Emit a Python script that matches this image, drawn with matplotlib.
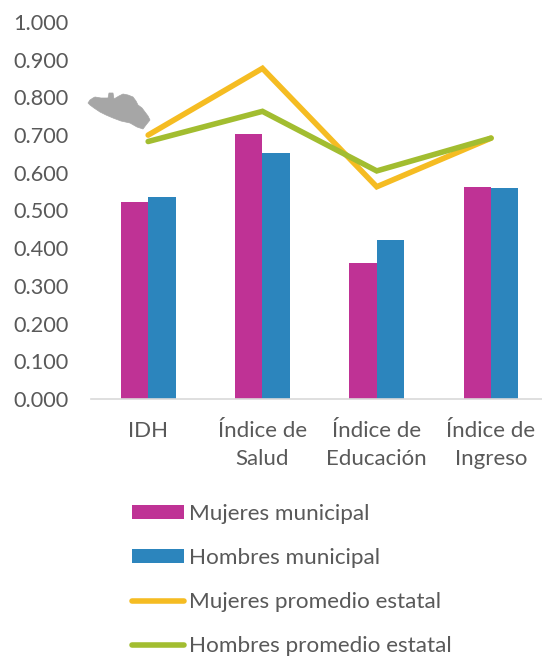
import matplotlib
matplotlib.use("Agg")
import matplotlib.pyplot as plt
import numpy as np
from matplotlib.patches import Polygon, Patch
from matplotlib.lines import Line2D

W, H = 542, 658
plt.rcParams['font.family'] = ['Lato', 'DejaVu Sans']

categories = ["IDH", "Índice de\nSalud", "Índice de\nEducación", "Índice de\nIngreso"]
mujeres_municipal = [0.522, 0.702, 0.362, 0.563]
hombres_municipal = [0.537, 0.652, 0.422, 0.560]
mujeres_estatal = [0.700, 0.877, 0.563, 0.692]
hombres_estatal = [0.683, 0.763, 0.605, 0.692]
y_ticks = [0.0, 0.1, 0.2, 0.3, 0.4, 0.5, 0.6, 0.7, 0.8, 0.9, 1.0]
series_names = ["Mujeres municipal", "Hombres municipal", "Mujeres promedio estatal", "Hombres promedio estatal"]

PINK, BLUE, YELLOW, GREEN = "#BF3295", "#2C85BD", "#F5BC22", "#A2BD30"
TXT = "#595959"
LW = 4.0

fig = plt.figure(figsize=(W/100, H/100), dpi=100)
left, right, top, bottom = 91, 542, 22, 399
ax = fig.add_axes([left/W, 1-bottom/H, (right-left)/W, (bottom-top)/H])

x = np.arange(len(categories))
bw = 0.24
ax.bar(x-bw/2, mujeres_municipal, bw, color=PINK)
ax.bar(x+bw/2, hombres_municipal, bw, color=BLUE)
ax.plot(x, mujeres_estatal, color=YELLOW, lw=LW, solid_capstyle='round', solid_joinstyle='miter')
ax.plot(x, hombres_estatal, color=GREEN, lw=LW, solid_capstyle='round', solid_joinstyle='miter')

span = (right-left)/114.3
ax.set_xlim(-0.5, span-0.5)
ax.set_ylim(0, 1)
ax.set_yticks(y_ticks)
ax.set_yticklabels([f"{v:.3f}" for v in y_ticks], fontsize=15.6, color=TXT)
ax.set_xticks(x)
ax.set_xticklabels(categories, fontsize=16, color=TXT, linespacing=1.5)
ax.tick_params(axis='both', length=0)
ax.tick_params(axis='x', pad=16)
ax.tick_params(axis='y', pad=16)
for s in ['top', 'right', 'left']:
    ax.spines[s].set_visible(False)
ax.spines['bottom'].set_color("#D9D9D9")
ax.spines['bottom'].set_linewidth(1.2)

# Decorative state silhouette, placed in pixel coordinates of the figure
shape = [(88,103),(90,100),(93,98),(95,97),(101,98),(108,98),(109,93),(113,93),(114,99),(119,96),(123,94),
         (128,95),(133,97),(136,101),(138,105),(142,108),(145,112),(148,116),(150,120),(146,125),(143,129),
         (137,127),(130,123),(121,121),(113,118),(106,115),(100,112),(94,108),(90,105)]
fig.add_artist(Polygon([(px/W, 1-py/H) for px, py in shape], closed=True, transform=fig.transFigure,
                       facecolor="#A6A6A6", edgecolor="#A6A6A6", lw=0.5))

handles = [Patch(facecolor=PINK, label=series_names[0]),
           Patch(facecolor=BLUE, label=series_names[1]),
           Line2D([], [], color=YELLOW, lw=LW, solid_capstyle='round', label=series_names[2]),
           Line2D([], [], color=GREEN, lw=LW, solid_capstyle='round', label=series_names[3])]
leg = fig.legend(handles=handles, loc='upper left', bbox_to_anchor=(132/W, 1-504/H), bbox_transform=fig.transFigure,
                 frameon=False, fontsize=16.2, labelcolor=TXT, handlelength=2.3, handleheight=0.6,
                 handletextpad=0.25, labelspacing=1.07, borderpad=0, borderaxespad=0)

fig.savefig("out.png", dpi=100)
